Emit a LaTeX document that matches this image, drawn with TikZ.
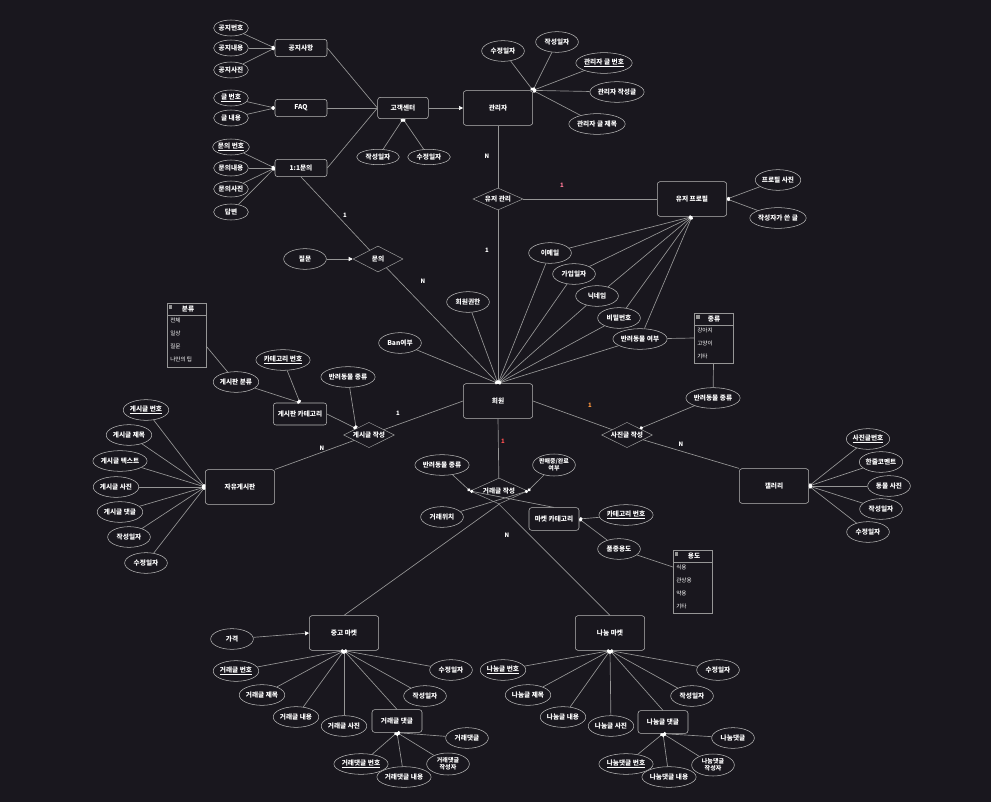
\documentclass[tikz,border=0pt]{standalone}
\usepackage{fontspec}
\setmainfont{Noto Sans CJK KR}
\usetikzlibrary{positioning,shapes.geometric,arrows.meta}
\definecolor{bg}{RGB}{25,23,30}
\definecolor{linec}{RGB}{150,150,150}
\definecolor{boxc}{RGB}{185,185,185}
\definecolor{pinkc}{RGB}{255,120,150}
\definecolor{orangec}{RGB}{255,150,60}
\definecolor{redc}{RGB}{255,80,80}

\begin{document}
\begin{tikzpicture}[%
    x=0.75pt, y=-0.75pt,
    every node/.style={text=white, font=\fontsize{5}{6}\selectfont\bfseries},
    ent/.style={rectangle, rounded corners=2pt, draw=boxc, fill=bg,
      minimum width=52pt, minimum height=26pt, inner sep=1pt},
    sent/.style={ent, minimum width=39pt, minimum height=13pt},
    attr/.style={ellipse, draw=boxc, fill=bg, minimum width=32pt,
      minimum height=15.5pt, inner sep=0pt, align=center},
    sattr/.style={attr, minimum width=26pt, minimum height=12pt},
    mattr/.style={attr, minimum height=16.5pt, font=\fontsize{4.5}{5.6}\selectfont\bfseries},
    rel/.style={diamond, draw=linec, fill=bg, shape aspect=2, inner sep=0pt,
      minimum width=38pt, minimum height=19pt},
    tbl/.style={rectangle, draw=linec, fill=bg, minimum width=29pt, inner sep=0pt},
    thead/.style={inner sep=0pt},
    trow/.style={anchor=west, inner sep=0pt, font=\fontsize{4.2}{5}\selectfont},
    card/.style={font=\fontsize{4.5}{5}\selectfont\bfseries},
    con/.style={draw=linec, line width=0.5pt},
    mk/.style={con, -{Circle[length=2.5pt, color=white]}},
    arr/.style={con, -{Triangle[length=3pt, width=3pt, color=white]}}
  ]
    \fill[bg] (0,0) rectangle (991,802);
    \useasboundingbox (0,0) rectangle (991,802);

    % customer center
    \node[sattr] (n1) at (231,28)  {공지번호};
    \node[sattr] (n2) at (231,48)  {공지내용};
    \node[sattr] (n3) at (231,70)  {공지사진};
    \node[sent]  (notice) at (301,48) {공지사항};
    \node[sattr] (f1) at (231,98)  {\underline{글 번호}};
    \node[sattr] (f2) at (231,118) {글 내용};
    \node[sent]  (faq) at (301,108) {FAQ};
    \node[sattr] (q1) at (231,147) {\underline{문의 번호}};
    \node[sattr] (q2) at (231,168) {문의내용};
    \node[sattr] (q3) at (231,189) {문의사진};
    \node[sattr] (q4) at (231,212) {답변};
    \node[sent]  (inq) at (301,168) {1:1문의};
    \node[sent, minimum width=38pt, minimum height=16pt] (cs) at (403,108) {고객센터};
    \node[attr, minimum height=11.5pt] (cs1) at (378,157) {작성일자};
    \node[attr, minimum height=11.5pt] (cs2) at (429,157) {수정일자};

    % admin
    \node[ent]  (admin) at (498,108) {관리자};
    \node[attr] (a1) at (503,51)  {수정일자};
    \node[attr] (a2) at (557,42)  {작성일자};
    \node[attr] (a3) at (604,63)  {\underline{관리자 글 번호}};
    \node[attr] (a4) at (617,92)  {관리자 작성글};
    \node[attr] (a5) at (597,124) {관리자 글 제목};
    \node[rel, minimum width=37.5pt, minimum height=16.5pt] (umgmt) at (498,199) {유저 관리};
    \node[ent]  (profile) at (692,199) {유저 프로필};
    \node[attr] (p1) at (778,180) {프로필 사진};
    \node[attr] (p2) at (778,218) {작성자가 쓴 글};

    % member
    \node[ent]  (member) at (498,401) {회원};
    \node[attr] (m1) at (550,253) {이메일};
    \node[attr] (m2) at (574,274) {가입일자};
    \node[attr] (m3) at (597,296) {닉네임};
    \node[attr] (m4) at (619,318) {비밀번호};
    \node[attr] (m5) at (640,339) {반려동물 여부};
    \node[attr] (m6) at (468,302) {회원권한};
    \node[attr] (m7) at (400,343) {Ban여부};
    \node[attr] (ques) at (305,259) {질문};
    \node[rel, minimum width=37.5pt, minimum height=19.5pt] (ask) at (378,259) {문의};

    % kind table
    \node[tbl, minimum height=37.5pt] (kind) at (713.5,338) {};
    \node[thead] (kindh) at (714,319) {종류};
    \node[trow] (k1) at (697,330) {강아지};
    \node[trow] (k2) at (697,343) {고양이};
    \node[trow] (k3) at (697,356) {기타};
    \draw[con] (694,325) -- (733,325);
    \fill[linec] (696,315) rectangle (699.5,318.5);

    % gallery
    \node[attr] (pt1) at (713,398) {반려동물 종류};
    \node[rel]  (photo) at (627,435) {사진글 작성};
    \node[ent]  (gallery) at (774,486) {갤러리};
    \node[attr] (g1) at (868,439) {\underline{사진글번호}};
    \node[attr] (g2) at (881,462) {한줄코멘트};
    \node[attr] (g3) at (889,486) {동물 사진};
    \node[attr] (g4) at (881,509) {작성일자};
    \node[attr] (g5) at (868,532) {수정일자};

    % board
    \node[tbl, minimum height=48pt] (bunryu) at (186.5,335) {};
    \node[thead] (bunryuh) at (188,309) {분류};
    \node[trow] (b1) at (170,320) {전체};
    \node[trow] (b2) at (170,333) {일상};
    \node[trow] (b3) at (170,346) {질문};
    \node[trow] (b4) at (170,359) {나만의 팁};
    \draw[con] (167,315) -- (206,315);
    \fill[linec] (168.5,305) rectangle (172,308.5);
    \node[attr] (bc) at (236,382) {게시판 분류};
    \node[attr] (catno) at (283,360) {\underline{카테고리 번호}};
    \node[sent, minimum width=40pt, minimum height=16.5pt] (bcat) at (300,414) {게시판 카테고리};
    \node[attr] (pt2) at (348,377) {반려동물 종류};
    \node[rel]  (post) at (369,435) {게시글 작성};
    \node[ent]  (free) at (240,487) {자유게시판};
    \node[attr] (bb1) at (146,410) {\underline{게시글 번호}};
    \node[attr] (bb2) at (129,435) {게시글 제목};
    \node[attr] (bb3) at (120,461) {게시글 텍스트};
    \node[attr] (bb4) at (116,487) {게시글 사진};
    \node[attr] (bb5) at (120,512) {게시글 댓글};
    \node[attr] (bb6) at (129,537) {작성일자};
    \node[attr] (bb7) at (146,563) {수정일자};

    % market
    \node[rel, minimum width=43pt, minimum height=19.5pt] (trade) at (499,491) {거래글 작성};
    \node[attr] (pt3) at (442,465) {반려동물 종류};
    \node[mattr] (sale) at (554,465) {판매중/완료\\여부};
    \node[attr] (loc) at (442,517) {거래위치};
    \node[sent, minimum width=37.5pt, minimum height=17pt] (mcat) at (554,519) {마켓 카테고리};
    \node[attr] (catno2) at (626,515) {\underline{카테고리 번호}};
    \node[attr] (breed) at (619,549) {품종용도};
    \node[tbl, minimum height=47pt] (yongdo) at (692.5,581.5) {};
    \node[thead] (yongdoh) at (694,556) {용도};
    \node[trow] (y1) at (676,567) {식용};
    \node[trow] (y2) at (676,580) {관상용};
    \node[trow] (y3) at (676,593) {약용};
    \node[trow] (y4) at (676,606) {기타};
    \draw[con] (673,562) -- (712,562);
    \fill[linec] (674.5,552) rectangle (678,555.5);

    \node[ent]  (used) at (344,633) {중고 마켓};
    \node[attr] (price) at (232,639) {가격};
    \node[attr] (ua1) at (236,671) {\underline{거래글 번호}};
    \node[attr] (ua2) at (262,695) {거래글 제목};
    \node[attr] (ua3) at (296,717) {거래글 내용};
    \node[attr] (ua4) at (344,726) {거래글 사진};
    \node[attr] (ua5) at (425,696) {작성일자};
    \node[attr] (ua6) at (451,670) {수정일자};
    \node[sent, minimum width=37.5pt, minimum height=17pt] (ucmt) at (397,721) {거래글 댓글};
    \node[attr] (uc1) at (361,764) {\underline{거래댓글 번호}};
    \node[attr] (uc2) at (404,777) {거래댓글 내용};
    \node[mattr] (uc3) at (448,764) {거래댓글\\작성자};
    \node[attr] (uc4) at (467,738) {거래댓글};

    \node[ent]  (share) at (610,633) {나눔 마켓};
    \node[attr] (sa1) at (503,670) {\underline{나눔글 번호}};
    \node[attr] (sa2) at (528,695) {나눔글 제목};
    \node[attr] (sa3) at (563,717) {나눔글 내용};
    \node[attr] (sa4) at (611,726) {나눔글 사진};
    \node[attr] (sa5) at (692,696) {작성일자};
    \node[attr] (sa6) at (718,670) {수정일자};
    \node[sent, minimum width=37.5pt, minimum height=17pt] (scmt) at (663,722) {나눔글 댓글};
    \node[attr] (sc1) at (626,764) {\underline{나눔댓글 번호}};
    \node[attr] (sc2) at (669,777) {나눔댓글 내용};
    \node[mattr] (sc3) at (713,765) {나눔댓글\\작성자};
    \node[attr] (sc4) at (733,738) {나눔댓글};

    % cardinalities
    \node[card] (c1) at (487,156) {N};
    \node[card, text=pinkc] (c2) at (562,185) {1};
    \node[card] (c3) at (487,250) {1};
    \node[card] (c4) at (345,215) {1};
    \node[card] (c5) at (423,281) {N};
    \node[card] (c6) at (398,413) {1};
    \node[card] (c7) at (322,448) {N};
    \node[card, text=orangec] (c8) at (590,405) {1};
    \node[card] (c9) at (681,444) {N};
    \node[card, text=redc] (c10) at (503,441) {1};
    \node[card] (c11) at (507,535) {N};

    \path (n1) edge[mk] (notice.west)
          (n2) edge[mk] (notice.west)
          (n3) edge[mk] (notice.west)
          (f1) edge[mk] (faq.west)
          (f2) edge[mk] (faq.west)
          (q1) edge[mk] (inq.west)
          (q2) edge[mk] (inq.west)
          (q3) edge[mk] (inq.west)
          (q4) edge[mk] (inq.west)
          (notice.east) edge[con] (cs.west)
          (faq.east) edge[con] (cs.west)
          (inq.east) edge[con] (cs.west)
          (cs1) edge[mk] (cs.south)
          (cs2) edge[mk] (cs.south)
          (cs.east) edge[arr] (admin.west)
          (a1) edge[mk] (admin.north east)
          (a2) edge[mk] (admin.north east)
          (a3) edge[mk] (admin.north east)
          (a4) edge[mk] (admin.north east)
          (a5) edge[mk] (admin.north east)
          (admin.south) edge[con] (umgmt)
          (umgmt) edge[con] (profile.west)
          (umgmt) edge[con] (member.north)
          (p1) edge[mk] (profile.east)
          (p2) edge[mk] (profile.east)
          ;
    \path (m1) edge[mk] (profile.south)
          (m2) edge[mk] (profile.south)
          (m3) edge[mk] (profile.south)
          (m4) edge[mk] (profile.south)
          (m5) edge[mk] (profile.south)
          (m1) edge[mk] (member.north)
          (m2) edge[mk] (member.north)
          (m3) edge[mk] (member.north)
          (m4) edge[mk] (member.north)
          (m5) edge[mk] (member.north)
          (m6) edge[mk] (member.north)
          (m7) edge[mk] (member.north)
          (ask) edge[mk] (member.north)
          (inq.south) edge[con] (ask)
          (ques) edge[arr] (ask.west)
          (m5) edge[con] (kind.west)
          (kind.south) edge[con] (pt1)
          (pt1) edge[mk] (photo.north east)
          (member.east) edge[con] (photo)
          (photo) edge[con] (gallery.north west)
          (g1) edge[mk] (gallery.east)
          (g2) edge[mk] (gallery.east)
          (g3) edge[mk] (gallery.east)
          (g4) edge[mk] (gallery.east)
          (g5) edge[mk] (gallery.east)
          ;
    \path (bunryu.east |- b3) edge[con] (bc)
          (bc) edge[mk] (bcat.north)
          (catno) edge[mk] (bcat.north)
          (bcat.east) edge[mk] (post.north west)
          (pt2) edge[mk] (post.north west)
          (member.west) edge[con] (post)
          (free.north east) edge[con] (post)
          (bb1) edge[mk] (free.west)
          (bb2) edge[mk] (free.west)
          (bb3) edge[mk] (free.west)
          (bb4) edge[mk] (free.west)
          (bb5) edge[mk] (free.west)
          (bb6) edge[mk] (free.west)
          (bb7) edge[mk] (free.west)
          ;
    \path (member.south) edge[con] (trade)
          (pt3) edge[mk] (trade.west)
          (mcat.north) edge[mk] (trade.west)
          (sale) edge[mk] (trade.east)
          (loc) edge[mk] (trade.east)
          (catno2) edge[mk] (mcat.east)
          (breed) edge[mk] (mcat.east)
          (breed) edge[con] (yongdo.west |- y1)
          (trade.south) edge[con] (used.north)
          (trade.south) edge[con] (share.north)
          (price) edge[arr] (used.west)
          (ua1) edge[mk] (used.south)
          (ua2) edge[mk] (used.south)
          (ua3) edge[mk] (used.south)
          (ua4) edge[mk] (used.south)
          (ua5) edge[mk] (used.south)
          (ua6) edge[mk] (used.south)
          (ucmt.north) edge[mk] (used.south)
          (uc1) edge[mk] (ucmt.south)
          (uc2) edge[mk] (ucmt.south)
          (uc3) edge[mk] (ucmt.south)
          (uc4) edge[mk] (ucmt.south)
          (sa1) edge[mk] (share.south)
          (sa2) edge[mk] (share.south)
          (sa3) edge[mk] (share.south)
          (sa4) edge[mk] (share.south)
          (sa5) edge[mk] (share.south)
          (sa6) edge[mk] (share.south)
          (scmt.north) edge[mk] (share.south)
          (sc1) edge[mk] (scmt.south)
          (sc2) edge[mk] (scmt.south)
          (sc3) edge[mk] (scmt.south)
          (sc4) edge[mk] (scmt.south)
          ;
  \end{tikzpicture}
\end{document}
